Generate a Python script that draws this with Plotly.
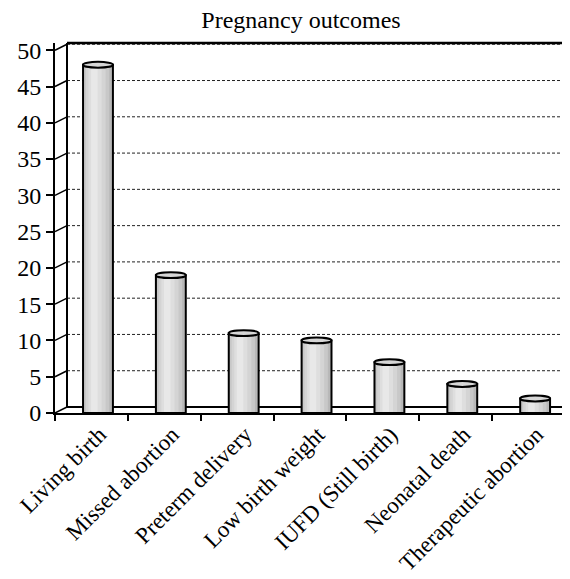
import plotly.graph_objects as go

categories = ["Living birth", "Missed abortion", "Preterm delivery", "Low birth weight",
              "IUFD (Still birth)", "Neonatal death", "Therapeutic abortion"]
values = [48, 19, 11, 10, 7, 4, 2]
y_ticks = [0, 5, 10, 15, 20, 25, 30, 35, 40, 45, 50]

FONT = "Liberation Serif, Times New Roman, serif"
# page body has an 8px default margin, so the figure is drawn 8px smaller
W, H = 562, 571
ML, MR, MT, MB = 47, 5, 35, 166
PW = W - ML - MR
PH = H - MT - MB
YMAX = 51
UPX = YMAX / PH            # data units per pixel (y)
DX = 12 / PW               # depth offset in paper x
DY = 6 * UPX               # depth offset in data y

BW = 0.41
SHIFT = 0.09

fig = go.Figure()
# cylinder body shading made of layered bars
layers = [
    (BW, "#b8b8b8", -0.0),
    (0.35, "#c8c8c8", -0.02),
    (0.27, "#d4d4d4", -0.03),
    (0.18, "#dedede", -0.04),
    (0.09, "#e8e8e8", -0.05),
]
for w, col, dx in layers:
    fig.add_trace(go.Bar(
        x=categories, y=values, width=w, offset=-w / 2 + SHIFT + dx,
        marker=dict(color=col, line=dict(width=0)),
        hoverinfo="skip", showlegend=False))

# outline of the cylinder body
fig.add_trace(go.Bar(
    x=categories, y=values, width=BW, offset=-BW / 2 + SHIFT,
    marker=dict(color="rgba(0,0,0,0)", line=dict(color="black", width=2)),
    hoverinfo="skip", showlegend=False))

shapes = []
# cylinder tops (ellipses)
for i, v in enumerate(values):
    shapes.append(dict(type="circle", xref="x", yref="y",
                       x0=i - BW / 2 + SHIFT, x1=i + BW / 2 + SHIFT,
                       y0=v - 0.4, y1=v + 0.4,
                       fillcolor="#d6d6d6", line=dict(color="black", width=2),
                       layer="above"))

# back-wall gridlines and depth ticks
for t in y_ticks:
    if 0 < t:
        shapes.append(dict(type="line", xref="paper", yref="y",
                           x0=DX, x1=1 - 3 / PW, y0=t + DY, y1=t + DY,
                           line=dict(color="#222", width=1, dash="3px,2px"), layer="below"))
    shapes.append(dict(type="line", xref="paper", yref="y",
                       x0=0, x1=DX, y0=t, y1=t + DY,
                       line=dict(color="black", width=1.5), layer="below"))

# 3D frame
shapes += [
    dict(type="line", xref="paper", yref="paper", x0=DX, x1=DX, y0=6 / PH, y1=1,
         line=dict(color="black", width=2), layer="below"),
    dict(type="line", xref="paper", yref="paper", x0=DX, x1=1, y0=1, y1=1,
         line=dict(color="black", width=2.5), layer="below"),
    dict(type="line", xref="paper", yref="paper", x0=DX, x1=1, y0=6 / PH, y1=6 / PH,
         line=dict(color="black", width=2), layer="below"),
]

fig.update_layout(
    width=W, height=H,
    margin=dict(l=ML, r=MR, t=MT, b=MB, autoexpand=False),
    paper_bgcolor="white", plot_bgcolor="white",
    barmode="overlay",
    shapes=shapes,
    title=dict(text="Pregnancy outcomes", x=293 / W, xref="container", xanchor="center",
               y=1 - 12 / H, yref="container", yanchor="middle",
               font=dict(family=FONT, size=24, color="black")),
    font=dict(family=FONT, color="black"),
)
fig.update_xaxes(
    type="category", range=[-0.5, 6.5], automargin=False,
    showline=True, linecolor="black", linewidth=2,
    ticks="outside", tickson="boundaries", ticklen=6, tickwidth=2, tickcolor="black",
    tickangle=-45, tickfont=dict(family=FONT, size=23, color="black"),
    ticklabelstandoff=-3, ticklabelshift=8,
    showgrid=False, zeroline=False,
)
fig.update_yaxes(
    range=[0, YMAX], tickvals=y_ticks, automargin=False,
    showline=True, linecolor="black", linewidth=2,
    ticks="outside", ticklen=7, tickwidth=2, tickcolor="black",
    tickfont=dict(family=FONT, size=24, color="black"),
    showgrid=False, zeroline=False,
)

fig.write_html("out.html")
